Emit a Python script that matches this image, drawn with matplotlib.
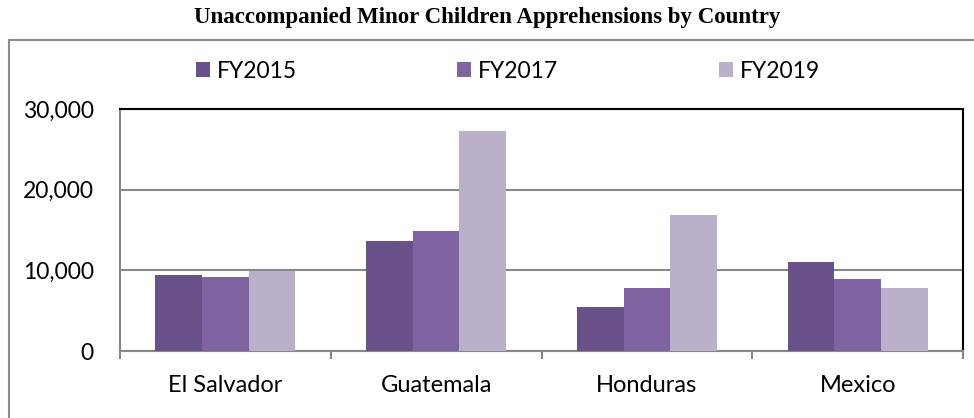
import matplotlib
matplotlib.use('Agg')
import matplotlib.pyplot as plt
from matplotlib.lines import Line2D
import numpy as np

countries = ['El Salvador', 'Guatemala', 'Honduras', 'Mexico']
years = ['FY2015', 'FY2017', 'FY2019']
fy2015 = [9400, 13590, 5410, 11010]
fy2017 = [9140, 14830, 7780, 8880]
fy2019 = [9900, 27230, 16900, 7820]
colors = ['#69518A', '#8064A2', '#BAB0CA']

plt.rcParams['font.family'] = ['Lato', 'DejaVu Sans']
grid_gray = '#878787'

fig = plt.figure(figsize=(9.74, 4.18), dpi=100)
ax = fig.add_axes([120 / 974, 1 - 351 / 418, 843 / 974, 242 / 418])

x = np.arange(len(countries))
w = 0.2216
for i, (vals, lab) in enumerate(zip([fy2015, fy2017, fy2019], years)):
    ax.bar(x + (i - 1) * w, vals, width=w, color=colors[i], label=lab, zorder=3)

ax.set_xlim(-0.5, len(countries) - 0.5)
ax.set_ylim(0, 30000)
ax.set_yticks([0, 10000, 20000, 30000])
ax.set_yticklabels([f'{v:,}' for v in [0, 10000, 20000, 30000]], fontsize=16.5)
ax.yaxis.grid(True, color=grid_gray, linewidth=1.5, zorder=0)
ax.tick_params(axis='y', length=0, pad=19)

ax.set_xticks(x)
ax.set_xticklabels(countries, fontsize=17)
ax.set_xticks(np.arange(-0.5, len(countries), 1), minor=True)
ax.tick_params(axis='x', which='major', length=0, pad=17)
ax.tick_params(axis='x', which='minor', length=6, width=1.5, color=grid_gray, direction='out')

for side in ['left', 'bottom']:
    ax.spines[side].set_color(grid_gray)
    ax.spines[side].set_linewidth(1.5)
for side in ['top', 'right']:
    ax.spines[side].set_color('black')
    ax.spines[side].set_linewidth(1.5)

fig.legend(loc='center left', bbox_to_anchor=(196 / 974, 1 - 71 / 418),
           bbox_transform=fig.transFigure, ncol=3, frameon=False,
           fontsize=16.5, handlelength=0.61, handleheight=0.61, handletextpad=0.3,
           columnspacing=7.0, borderpad=0, borderaxespad=0)

# outer chart frame (only top and left visible)
fig.add_artist(Line2D([9 / 974, 9 / 974], [0, 1 - 40 / 418], color='#8c8c8c', linewidth=1.5))
fig.add_artist(Line2D([9 / 974, 1], [1 - 40 / 418, 1 - 40 / 418], color='#8c8c8c', linewidth=1.5))

fig.text(0.5, 1 - 18 / 418, 'Unaccompanied Minor Children Apprehensions by Country',
         ha='center', va='center', fontsize=16.5, fontweight='bold', family='Liberation Serif')

fig.savefig('out.png', dpi=100)
